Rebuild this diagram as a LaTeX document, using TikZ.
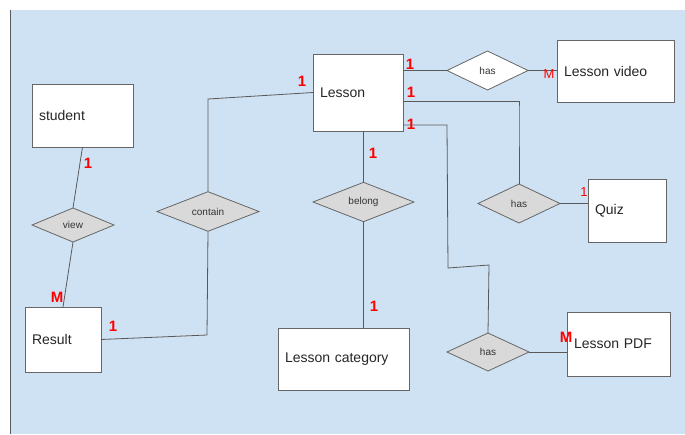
\documentclass[tikz,border=0pt]{standalone}
\usepackage{fontspec}
\setmainfont{Liberation Sans}
\usetikzlibrary{shapes.geometric}
\definecolor{bgblue}{HTML}{CFE2F3}
\definecolor{linegray}{HTML}{595959}
\definecolor{boxgray}{HTML}{666666}
\definecolor{diafill}{HTML}{D9D9D9}
\definecolor{lblred}{HTML}{FF0000}
\begin{document}
\begin{tikzpicture}[x=1pt,y=-1pt,
  entity/.style={draw=boxgray,fill=white,line width=0.9pt,rectangle,inner xsep=7pt,inner ysep=0pt,
    outer sep=0pt,align=left,font=\fontsize{14}{16}\selectfont,text=black!85},
  rel/.style={draw=boxgray,fill=diafill,line width=0.8pt,diamond,inner sep=0pt,outer sep=0pt,
    font=\fontsize{10}{12}\selectfont,text=black!80},
  conn/.style={draw=linegray,line width=0.8pt},
  card/.style={text=lblred,font=\bfseries\fontsize{15}{17}\selectfont,inner sep=0pt},
  cardthin/.style={text=lblred,font=\fontsize{13}{15}\selectfont,inner sep=0pt}]
\useasboundingbox (0,0) rectangle (685,434);
\fill[bgblue] (10,10) rectangle (685,434);
\draw[linegray,line width=1pt] (10,10) -- (10,434);
% entities
\node[entity,minimum height=63pt,text width=87pt] (student) at (82.5,115.5) {student};
\node[entity,minimum height=65pt,text width=62pt] (result) at (63,339.5) {Result};
\node[entity,minimum height=77pt,text width=76pt] (lesson) at (358,92.5) {Lesson};
\node[entity,minimum height=62pt,text width=103pt] (video) at (615.5,71) {Lesson video};
\node[entity,minimum height=63pt,text width=64pt] (quiz) at (627,210.5) {Quiz};
\node[entity,minimum height=62pt,text width=117pt] (category) at (343.5,359) {Lesson category};
\node[entity,minimum height=64pt,text width=89pt] (pdf) at (618.5,344) {Lesson PDF};
% relationships
\node[rel,minimum width=82pt,minimum height=34pt] (view) at (73,225) {view};
\node[rel,minimum width=102pt,minimum height=39pt] (contain) at (208,211.5) {contain};
\node[rel,fill=white,minimum width=81pt,minimum height=39pt] (hasv) at (487.5,70.5) {has};
\node[rel,minimum width=82pt,minimum height=39pt] (hasq) at (519,203.5) {has};
\node[rel,minimum width=101pt,minimum height=38pt] (belong) at (363.5,202) {belong};
\node[rel,minimum width=82pt,minimum height=38pt] (haspdf) at (488,352) {has};
% connectors
\coordinate (c1) at (207,335);
\coordinate (c2) at (208,99);
\coordinate (q1) at (519,101);
\coordinate (q2) at (519,110);
\coordinate (p1) at (447,125);
\coordinate (p2) at (448,268);
\coordinate (p3) at (489,265);
\draw[conn] (student.south) -- (view.north);
\draw[conn] (view.south) -- (result.north);
\draw[conn] (result.east) -- (c1) -- (contain.south);
\draw[conn] (contain.north) -- (c2) -- (lesson.west);
\draw[conn] (lesson.east |- hasv.west) -- (hasv.west);
\draw[conn] (hasv.east) -- (video.west |- hasv.east);
\draw[conn] (lesson.east |- q1) -- (q1) -- (q2) -- (hasq.north);
\draw[conn] (hasq.east) -- (quiz.west |- hasq.east);
\draw[conn] (lesson.east |- p1) -- (p1) -- (p2) -- (p3) -- (haspdf.north);
\draw[conn] (haspdf.east) -- (pdf.west |- haspdf.east);
\draw[conn] (belong.north |- lesson.south) -- (belong.north);
\draw[conn] (belong.south) -- (belong.south |- category.north);
% cardinalities
\node[card] (l1) at (88,163) {1};
\node[card] (l2) at (57,297) {M};
\node[card] (l3) at (113,326) {1};
\node[card] (l4) at (302,81) {1};
\node[card] (l5) at (410,64) {1};
\node[cardthin] (l6) at (549,74) {M};
\node[card] (l7) at (411,92) {1};
\node[cardthin] (l8) at (584,192) {1};
\node[card] (l9) at (411,124) {1};
\node[card] (l10) at (566,337) {M};
\node[card] (l11) at (373,153) {1};
\node[card] (l12) at (374,306) {1};
\end{tikzpicture}
\end{document}
